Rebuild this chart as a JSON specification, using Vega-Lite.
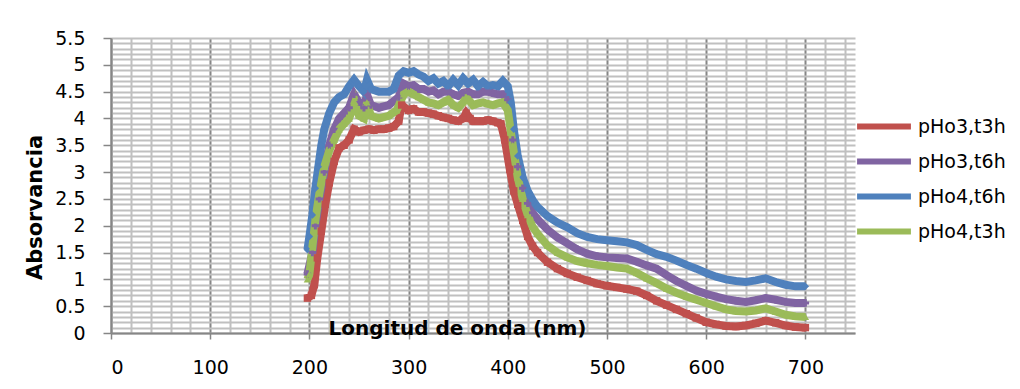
{
  "$schema": "https://vega.github.io/schema/vega-lite/v6.json",
  "width": 744,
  "height": 295,
  "autosize": {"type": "none"},
  "padding": {"left": 111, "top": 38, "right": 165, "bottom": 56},
  "background": "white",
  "config": {"view": {"stroke": null}, "font": "DejaVu Sans"},
  "data": {"values": [
    {"s":"pHo3,t3h","x":198,"y":0.65},{"s":"pHo3,t3h","x":202,"y":0.7},{"s":"pHo3,t3h","x":205,"y":0.9},{"s":"pHo3,t3h","x":208,"y":1.4},{"s":"pHo3,t3h","x":212,"y":1.9},{"s":"pHo3,t3h","x":216,"y":2.4},{"s":"pHo3,t3h","x":220,"y":2.8},{"s":"pHo3,t3h","x":225,"y":3.2},{"s":"pHo3,t3h","x":230,"y":3.45},{"s":"pHo3,t3h","x":235,"y":3.5},{"s":"pHo3,t3h","x":240,"y":3.6},{"s":"pHo3,t3h","x":245,"y":3.8},{"s":"pHo3,t3h","x":250,"y":3.75},{"s":"pHo3,t3h","x":255,"y":3.78},{"s":"pHo3,t3h","x":260,"y":3.8},{"s":"pHo3,t3h","x":265,"y":3.78},{"s":"pHo3,t3h","x":270,"y":3.8},{"s":"pHo3,t3h","x":275,"y":3.8},{"s":"pHo3,t3h","x":280,"y":3.82},{"s":"pHo3,t3h","x":285,"y":3.85},{"s":"pHo3,t3h","x":290,"y":3.95},{"s":"pHo3,t3h","x":293,"y":4.25},{"s":"pHo3,t3h","x":300,"y":4.15},{"s":"pHo3,t3h","x":305,"y":4.18},{"s":"pHo3,t3h","x":310,"y":4.12},{"s":"pHo3,t3h","x":315,"y":4.12},{"s":"pHo3,t3h","x":320,"y":4.1},{"s":"pHo3,t3h","x":325,"y":4.08},{"s":"pHo3,t3h","x":330,"y":4.05},{"s":"pHo3,t3h","x":335,"y":4.02},{"s":"pHo3,t3h","x":340,"y":4.0},{"s":"pHo3,t3h","x":345,"y":3.97},{"s":"pHo3,t3h","x":350,"y":3.95},{"s":"pHo3,t3h","x":355,"y":4.0},{"s":"pHo3,t3h","x":358,"y":4.1},{"s":"pHo3,t3h","x":362,"y":4.0},{"s":"pHo3,t3h","x":365,"y":3.95},{"s":"pHo3,t3h","x":370,"y":3.95},{"s":"pHo3,t3h","x":375,"y":3.95},{"s":"pHo3,t3h","x":380,"y":3.97},{"s":"pHo3,t3h","x":385,"y":3.95},{"s":"pHo3,t3h","x":390,"y":3.92},{"s":"pHo3,t3h","x":393,"y":3.9},{"s":"pHo3,t3h","x":397,"y":3.6},{"s":"pHo3,t3h","x":402,"y":3.05},{"s":"pHo3,t3h","x":406,"y":2.65},{"s":"pHo3,t3h","x":410,"y":2.4},{"s":"pHo3,t3h","x":415,"y":2.1},{"s":"pHo3,t3h","x":420,"y":1.8},{"s":"pHo3,t3h","x":425,"y":1.62},{"s":"pHo3,t3h","x":430,"y":1.5},{"s":"pHo3,t3h","x":440,"y":1.32},{"s":"pHo3,t3h","x":450,"y":1.2},{"s":"pHo3,t3h","x":460,"y":1.11},{"s":"pHo3,t3h","x":470,"y":1.04},{"s":"pHo3,t3h","x":480,"y":0.98},{"s":"pHo3,t3h","x":490,"y":0.92},{"s":"pHo3,t3h","x":500,"y":0.88},{"s":"pHo3,t3h","x":510,"y":0.85},{"s":"pHo3,t3h","x":520,"y":0.82},{"s":"pHo3,t3h","x":530,"y":0.78},{"s":"pHo3,t3h","x":540,"y":0.7},{"s":"pHo3,t3h","x":550,"y":0.6},{"s":"pHo3,t3h","x":560,"y":0.52},{"s":"pHo3,t3h","x":570,"y":0.44},{"s":"pHo3,t3h","x":580,"y":0.36},{"s":"pHo3,t3h","x":590,"y":0.28},{"s":"pHo3,t3h","x":600,"y":0.2},{"s":"pHo3,t3h","x":610,"y":0.16},{"s":"pHo3,t3h","x":620,"y":0.13},{"s":"pHo3,t3h","x":630,"y":0.12},{"s":"pHo3,t3h","x":640,"y":0.14},{"s":"pHo3,t3h","x":650,"y":0.18},{"s":"pHo3,t3h","x":660,"y":0.23},{"s":"pHo3,t3h","x":670,"y":0.19},{"s":"pHo3,t3h","x":680,"y":0.14},{"s":"pHo3,t3h","x":690,"y":0.11},{"s":"pHo3,t3h","x":700,"y":0.1},

    {"s":"pHo3,t6h","x":198,"y":1.1},{"s":"pHo3,t6h","x":203,"y":1.5},{"s":"pHo3,t6h","x":206,"y":2.0},{"s":"pHo3,t6h","x":210,"y":2.5},{"s":"pHo3,t6h","x":215,"y":3.0},{"s":"pHo3,t6h","x":220,"y":3.5},{"s":"pHo3,t6h","x":225,"y":3.8},{"s":"pHo3,t6h","x":230,"y":4.0},{"s":"pHo3,t6h","x":235,"y":4.1},{"s":"pHo3,t6h","x":240,"y":4.2},{"s":"pHo3,t6h","x":245,"y":4.45},{"s":"pHo3,t6h","x":250,"y":4.3},{"s":"pHo3,t6h","x":255,"y":4.2},{"s":"pHo3,t6h","x":258,"y":4.45},{"s":"pHo3,t6h","x":262,"y":4.25},{"s":"pHo3,t6h","x":270,"y":4.2},{"s":"pHo3,t6h","x":280,"y":4.25},{"s":"pHo3,t6h","x":290,"y":4.4},{"s":"pHo3,t6h","x":295,"y":4.65},{"s":"pHo3,t6h","x":300,"y":4.6},{"s":"pHo3,t6h","x":305,"y":4.62},{"s":"pHo3,t6h","x":310,"y":4.55},{"s":"pHo3,t6h","x":315,"y":4.55},{"s":"pHo3,t6h","x":320,"y":4.5},{"s":"pHo3,t6h","x":325,"y":4.52},{"s":"pHo3,t6h","x":330,"y":4.45},{"s":"pHo3,t6h","x":335,"y":4.5},{"s":"pHo3,t6h","x":340,"y":4.5},{"s":"pHo3,t6h","x":345,"y":4.45},{"s":"pHo3,t6h","x":350,"y":4.42},{"s":"pHo3,t6h","x":355,"y":4.48},{"s":"pHo3,t6h","x":360,"y":4.5},{"s":"pHo3,t6h","x":365,"y":4.45},{"s":"pHo3,t6h","x":370,"y":4.45},{"s":"pHo3,t6h","x":375,"y":4.5},{"s":"pHo3,t6h","x":380,"y":4.5},{"s":"pHo3,t6h","x":385,"y":4.47},{"s":"pHo3,t6h","x":390,"y":4.45},{"s":"pHo3,t6h","x":395,"y":4.45},{"s":"pHo3,t6h","x":400,"y":4.35},{"s":"pHo3,t6h","x":405,"y":3.6},{"s":"pHo3,t6h","x":410,"y":3.1},{"s":"pHo3,t6h","x":415,"y":2.7},{"s":"pHo3,t6h","x":420,"y":2.42},{"s":"pHo3,t6h","x":425,"y":2.24},{"s":"pHo3,t6h","x":430,"y":2.12},{"s":"pHo3,t6h","x":440,"y":1.93},{"s":"pHo3,t6h","x":450,"y":1.78},{"s":"pHo3,t6h","x":460,"y":1.67},{"s":"pHo3,t6h","x":470,"y":1.56},{"s":"pHo3,t6h","x":480,"y":1.48},{"s":"pHo3,t6h","x":490,"y":1.43},{"s":"pHo3,t6h","x":500,"y":1.41},{"s":"pHo3,t6h","x":510,"y":1.4},{"s":"pHo3,t6h","x":520,"y":1.39},{"s":"pHo3,t6h","x":530,"y":1.33},{"s":"pHo3,t6h","x":540,"y":1.26},{"s":"pHo3,t6h","x":550,"y":1.2},{"s":"pHo3,t6h","x":560,"y":1.08},{"s":"pHo3,t6h","x":570,"y":0.97},{"s":"pHo3,t6h","x":580,"y":0.88},{"s":"pHo3,t6h","x":590,"y":0.79},{"s":"pHo3,t6h","x":600,"y":0.73},{"s":"pHo3,t6h","x":610,"y":0.68},{"s":"pHo3,t6h","x":620,"y":0.63},{"s":"pHo3,t6h","x":630,"y":0.6},{"s":"pHo3,t6h","x":640,"y":0.58},{"s":"pHo3,t6h","x":650,"y":0.61},{"s":"pHo3,t6h","x":660,"y":0.65},{"s":"pHo3,t6h","x":670,"y":0.62},{"s":"pHo3,t6h","x":680,"y":0.58},{"s":"pHo3,t6h","x":690,"y":0.56},{"s":"pHo3,t6h","x":700,"y":0.56},

    {"s":"pHo4,t6h","x":198,"y":1.55},{"s":"pHo4,t6h","x":200,"y":1.8},{"s":"pHo4,t6h","x":203,"y":2.2},{"s":"pHo4,t6h","x":206,"y":2.7},{"s":"pHo4,t6h","x":209,"y":3.1},{"s":"pHo4,t6h","x":212,"y":3.5},{"s":"pHo4,t6h","x":215,"y":3.8},{"s":"pHo4,t6h","x":220,"y":4.1},{"s":"pHo4,t6h","x":225,"y":4.3},{"s":"pHo4,t6h","x":230,"y":4.4},{"s":"pHo4,t6h","x":235,"y":4.45},{"s":"pHo4,t6h","x":240,"y":4.6},{"s":"pHo4,t6h","x":245,"y":4.72},{"s":"pHo4,t6h","x":250,"y":4.6},{"s":"pHo4,t6h","x":255,"y":4.5},{"s":"pHo4,t6h","x":258,"y":4.72},{"s":"pHo4,t6h","x":262,"y":4.55},{"s":"pHo4,t6h","x":270,"y":4.5},{"s":"pHo4,t6h","x":280,"y":4.5},{"s":"pHo4,t6h","x":285,"y":4.55},{"s":"pHo4,t6h","x":290,"y":4.8},{"s":"pHo4,t6h","x":295,"y":4.88},{"s":"pHo4,t6h","x":300,"y":4.85},{"s":"pHo4,t6h","x":305,"y":4.88},{"s":"pHo4,t6h","x":310,"y":4.82},{"s":"pHo4,t6h","x":315,"y":4.78},{"s":"pHo4,t6h","x":320,"y":4.7},{"s":"pHo4,t6h","x":325,"y":4.75},{"s":"pHo4,t6h","x":330,"y":4.65},{"s":"pHo4,t6h","x":335,"y":4.7},{"s":"pHo4,t6h","x":340,"y":4.6},{"s":"pHo4,t6h","x":345,"y":4.72},{"s":"pHo4,t6h","x":350,"y":4.62},{"s":"pHo4,t6h","x":355,"y":4.75},{"s":"pHo4,t6h","x":360,"y":4.65},{"s":"pHo4,t6h","x":365,"y":4.72},{"s":"pHo4,t6h","x":370,"y":4.6},{"s":"pHo4,t6h","x":375,"y":4.68},{"s":"pHo4,t6h","x":380,"y":4.6},{"s":"pHo4,t6h","x":385,"y":4.62},{"s":"pHo4,t6h","x":390,"y":4.6},{"s":"pHo4,t6h","x":395,"y":4.7},{"s":"pHo4,t6h","x":400,"y":4.6},{"s":"pHo4,t6h","x":403,"y":4.3},{"s":"pHo4,t6h","x":406,"y":3.8},{"s":"pHo4,t6h","x":410,"y":3.3},{"s":"pHo4,t6h","x":415,"y":2.9},{"s":"pHo4,t6h","x":420,"y":2.65},{"s":"pHo4,t6h","x":425,"y":2.48},{"s":"pHo4,t6h","x":430,"y":2.35},{"s":"pHo4,t6h","x":440,"y":2.18},{"s":"pHo4,t6h","x":450,"y":2.06},{"s":"pHo4,t6h","x":460,"y":1.97},{"s":"pHo4,t6h","x":470,"y":1.86},{"s":"pHo4,t6h","x":480,"y":1.79},{"s":"pHo4,t6h","x":490,"y":1.75},{"s":"pHo4,t6h","x":500,"y":1.73},{"s":"pHo4,t6h","x":510,"y":1.71},{"s":"pHo4,t6h","x":520,"y":1.69},{"s":"pHo4,t6h","x":530,"y":1.64},{"s":"pHo4,t6h","x":540,"y":1.55},{"s":"pHo4,t6h","x":550,"y":1.47},{"s":"pHo4,t6h","x":560,"y":1.42},{"s":"pHo4,t6h","x":570,"y":1.35},{"s":"pHo4,t6h","x":580,"y":1.27},{"s":"pHo4,t6h","x":590,"y":1.2},{"s":"pHo4,t6h","x":600,"y":1.12},{"s":"pHo4,t6h","x":610,"y":1.05},{"s":"pHo4,t6h","x":620,"y":1.0},{"s":"pHo4,t6h","x":630,"y":0.97},{"s":"pHo4,t6h","x":640,"y":0.95},{"s":"pHo4,t6h","x":650,"y":0.98},{"s":"pHo4,t6h","x":660,"y":1.02},{"s":"pHo4,t6h","x":670,"y":0.95},{"s":"pHo4,t6h","x":680,"y":0.9},{"s":"pHo4,t6h","x":690,"y":0.87},{"s":"pHo4,t6h","x":700,"y":0.87},

    {"s":"pHo4,t3h","x":198,"y":1.0},{"s":"pHo4,t3h","x":200,"y":1.1},{"s":"pHo4,t3h","x":203,"y":1.6},{"s":"pHo4,t3h","x":206,"y":2.1},{"s":"pHo4,t3h","x":210,"y":2.6},{"s":"pHo4,t3h","x":215,"y":3.1},{"s":"pHo4,t3h","x":220,"y":3.4},{"s":"pHo4,t3h","x":225,"y":3.6},{"s":"pHo4,t3h","x":230,"y":3.8},{"s":"pHo4,t3h","x":235,"y":3.9},{"s":"pHo4,t3h","x":240,"y":4.0},{"s":"pHo4,t3h","x":246,"y":4.3},{"s":"pHo4,t3h","x":250,"y":4.05},{"s":"pHo4,t3h","x":255,"y":4.0},{"s":"pHo4,t3h","x":258,"y":4.3},{"s":"pHo4,t3h","x":262,"y":4.05},{"s":"pHo4,t3h","x":270,"y":4.0},{"s":"pHo4,t3h","x":280,"y":4.05},{"s":"pHo4,t3h","x":288,"y":4.15},{"s":"pHo4,t3h","x":295,"y":4.45},{"s":"pHo4,t3h","x":300,"y":4.5},{"s":"pHo4,t3h","x":305,"y":4.45},{"s":"pHo4,t3h","x":310,"y":4.4},{"s":"pHo4,t3h","x":315,"y":4.35},{"s":"pHo4,t3h","x":320,"y":4.3},{"s":"pHo4,t3h","x":325,"y":4.28},{"s":"pHo4,t3h","x":330,"y":4.25},{"s":"pHo4,t3h","x":335,"y":4.3},{"s":"pHo4,t3h","x":340,"y":4.35},{"s":"pHo4,t3h","x":345,"y":4.25},{"s":"pHo4,t3h","x":350,"y":4.2},{"s":"pHo4,t3h","x":355,"y":4.3},{"s":"pHo4,t3h","x":358,"y":4.4},{"s":"pHo4,t3h","x":365,"y":4.25},{"s":"pHo4,t3h","x":370,"y":4.28},{"s":"pHo4,t3h","x":375,"y":4.3},{"s":"pHo4,t3h","x":380,"y":4.27},{"s":"pHo4,t3h","x":385,"y":4.25},{"s":"pHo4,t3h","x":390,"y":4.28},{"s":"pHo4,t3h","x":395,"y":4.3},{"s":"pHo4,t3h","x":400,"y":4.15},{"s":"pHo4,t3h","x":405,"y":3.5},{"s":"pHo4,t3h","x":410,"y":2.9},{"s":"pHo4,t3h","x":415,"y":2.5},{"s":"pHo4,t3h","x":420,"y":2.2},{"s":"pHo4,t3h","x":425,"y":1.98},{"s":"pHo4,t3h","x":430,"y":1.85},{"s":"pHo4,t3h","x":440,"y":1.63},{"s":"pHo4,t3h","x":450,"y":1.5},{"s":"pHo4,t3h","x":460,"y":1.41},{"s":"pHo4,t3h","x":470,"y":1.34},{"s":"pHo4,t3h","x":480,"y":1.3},{"s":"pHo4,t3h","x":490,"y":1.27},{"s":"pHo4,t3h","x":500,"y":1.25},{"s":"pHo4,t3h","x":510,"y":1.22},{"s":"pHo4,t3h","x":520,"y":1.2},{"s":"pHo4,t3h","x":530,"y":1.12},{"s":"pHo4,t3h","x":540,"y":1.02},{"s":"pHo4,t3h","x":550,"y":0.93},{"s":"pHo4,t3h","x":560,"y":0.83},{"s":"pHo4,t3h","x":570,"y":0.75},{"s":"pHo4,t3h","x":580,"y":0.68},{"s":"pHo4,t3h","x":590,"y":0.62},{"s":"pHo4,t3h","x":600,"y":0.56},{"s":"pHo4,t3h","x":610,"y":0.5},{"s":"pHo4,t3h","x":620,"y":0.44},{"s":"pHo4,t3h","x":630,"y":0.41},{"s":"pHo4,t3h","x":640,"y":0.4},{"s":"pHo4,t3h","x":650,"y":0.42},{"s":"pHo4,t3h","x":660,"y":0.46},{"s":"pHo4,t3h","x":670,"y":0.4},{"s":"pHo4,t3h","x":680,"y":0.34},{"s":"pHo4,t3h","x":690,"y":0.31},{"s":"pHo4,t3h","x":700,"y":0.3}
  ]},
  "encoding": {
    "x": {
      "field": "x", "type": "quantitative",
      "scale": {"domain": [0, 750], "nice": false, "zero": false},
      "axis": {
        "values": [0,20,40,60,80,100,120,140,160,180,200,220,240,260,280,300,320,340,360,380,400,420,440,460,480,500,520,540,560,580,600,620,640,660,680,700,720,740],
        "labelExpr": "datum.value % 100 === 0 ? datum.label : ''",
        "grid": true,
        "gridColor": {"condition": {"test": "datum.value % 100 === 0", "value": "#868686"}, "value": "#c0c0c0"},
        "gridWidth": 2,
        "tickOpacity": {"condition": {"test": "datum.value % 100 !== 0", "value": 0}, "value": 1},
        "tickColor": "#868686",
        "tickSize": 6,
        "tickWidth": 1.5,
        "domainColor": "#868686",
        "domainWidth": 2,
        "labelFont": "DejaVu Sans",
        "labelFontSize": 19,
        "labelColor": "#000000",
        "labelPadding": 19,
        "title": "Longitud de onda (nm)",
        "titleFont": "DejaVu Sans",
        "titleFontSize": 20,
        "titleFontWeight": "bold",
        "titleColor": "#000000",
        "titleX": 346,
        "titleY": 1,
        "titleAlign": "center",
        "titleBaseline": "alphabetic"
      }
    },
    "y": {
      "field": "y", "type": "quantitative",
      "scale": {"domain": [0, 5.5], "nice": false, "zero": true},
      "axis": {
        "values": [0,0.1,0.2,0.3,0.4,0.5,0.6,0.7,0.8,0.9,1,1.1,1.2,1.3,1.4,1.5,1.6,1.7,1.8,1.9,2,2.1,2.2,2.3,2.4,2.5,2.6,2.7,2.8,2.9,3,3.1,3.2,3.3,3.4,3.5,3.6,3.7,3.8,3.9,4,4.1,4.2,4.3,4.4,4.5,4.6,4.7,4.8,4.9,5,5.1,5.2,5.3,5.4,5.5],
        "labelExpr": "round(datum.value*10) % 5 === 0 ? '' + round(datum.value*10)/10 : ''",
        "grid": true,
        "gridColor": "#c0c0c0",
        "gridWidth": 2,
        "tickOpacity": {"condition": {"test": "round(datum.value*10) % 5 !== 0", "value": 0}, "value": 1},
        "tickColor": "#868686",
        "tickSize": 8,
        "tickWidth": 1.5,
        "domainColor": "#868686",
        "domainWidth": 2,
        "labelFont": "DejaVu Sans",
        "labelFontSize": 19,
        "labelColor": "#000000",
        "labelPadding": 18,
        "title": "Absorvancia",
        "titleFont": "DejaVu Sans",
        "titleFontSize": 21,
        "titleFontWeight": "bold",
        "titleColor": "#000000",
        "titleAngle": -90,
        "titleX": -76,
        "titleY": 169,
        "titleAlign": "center",
        "titleBaseline": "middle"
      }
    }
  },
  "layer": [
    {"mark": {"type": "line", "strokeWidth": 8},
     "encoding": {
      "color": {
        "field": "s", "type": "nominal",
        "scale": {"domain": ["pHo3,t3h","pHo3,t6h","pHo4,t6h","pHo4,t3h"], "range": ["#C0504D","#8064A2","#4F81BD","#9BBB59"]},
        "legend": {
          "orient": "none",
          "legendX": 743,
          "legendY": 71,
          "title": null,
          "symbolType": "stroke",
          "symbolStrokeWidth": 6,
          "symbolSize": 2900,
          "labelFont": "DejaVu Sans",
          "labelFontSize": 19,
          "labelColor": "#000000",
          "labelOffset": 4,
          "clipHeight": 35,
          "rowPadding": 0
        }
      }
     }},
    {"transform": [{"filter": "datum.s === 'pHo3,t3h'"}],
     "mark": {"type": "point", "filled": true, "size": 55, "opacity": 1, "shape": "square", "color": "#C0504D"}},
    {"transform": [{"filter": "datum.s === 'pHo3,t6h'"}],
     "mark": {"type": "point", "filled": true, "size": 55, "opacity": 1, "shape": "cross", "color": "#8064A2"}},
    {"transform": [{"filter": "datum.s === 'pHo4,t6h'"}],
     "mark": {"type": "point", "filled": true, "size": 55, "opacity": 1, "shape": "diamond", "color": "#4F81BD"}},
    {"transform": [{"filter": "datum.s === 'pHo4,t3h'"}],
     "mark": {"type": "point", "filled": true, "size": 55, "opacity": 1, "shape": "triangle-up", "color": "#9BBB59"}}
  ]
}
